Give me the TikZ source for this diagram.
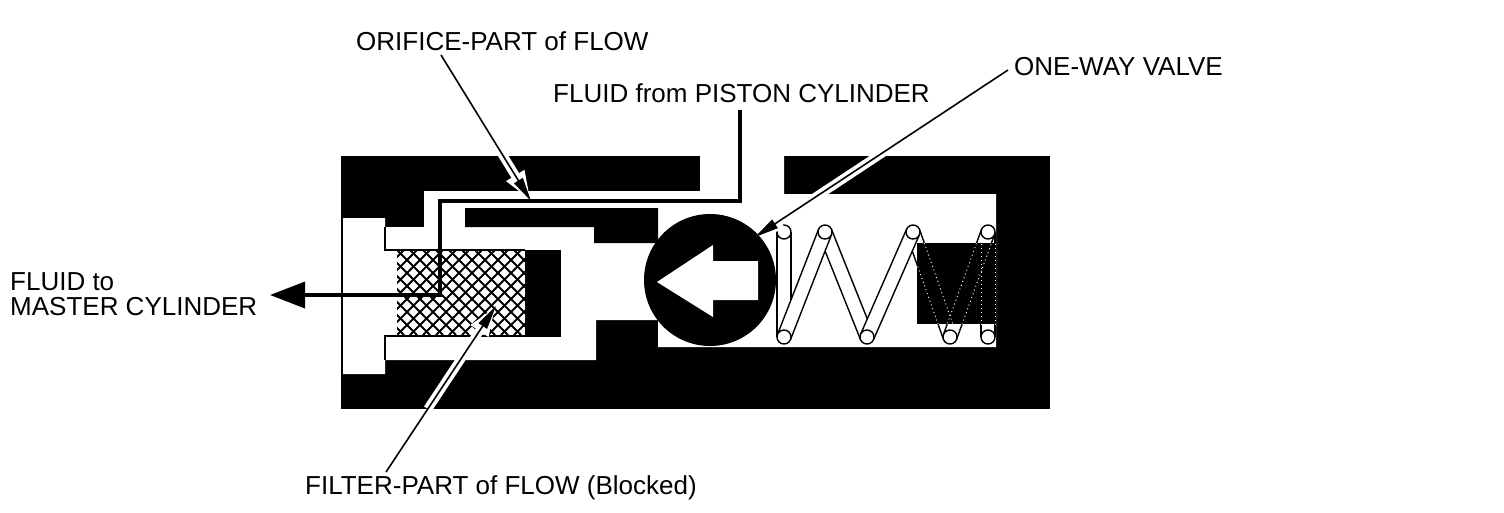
\documentclass[tikz,border=0pt]{standalone}
\usepackage{fontspec}
\setmainfont{Liberation Sans}
\usetikzlibrary{calc,arrows.meta}
\tikzset{
  x=1pt,y=-1pt,
  label text/.style={inner sep=0pt,anchor=west,font=\fontsize{26}{27}\selectfont,text=black},
  flowline/.style={line width=3.6pt,draw=black,line join=miter},
  leader/.style={line width=1.6pt,draw=black,-{Triangle[length=24pt,width=10pt]}},
  halo/.style={line width=9pt,draw=white,-{Triangle[length=30pt,width=19pt]}},
  wall line/.style={line width=2pt,draw=black},
  coil/.style={circle,draw=black,fill=white,line width=1.4pt,minimum size=14pt,inner sep=0pt},
  tape/.style={line width=1.4pt,draw=black},
  tape inside/.style={line width=0.9pt,draw=white,dash pattern=on 1pt off 3pt},
  hatch line/.style={line width=2pt,draw=black},
}
\newcommand{\tapepairs}[2]{%
  \foreach \p/\q in {#1}{
    \fill[white] ($(\p)!7pt!90:(\q)$) -- ($(\q)!7pt!-90:(\p)$) -- ($(\q)!7pt!90:(\p)$) -- ($(\p)!7pt!-90:(\q)$) -- cycle;
    \draw[#2] ($(\p)!7pt!90:(\q)$) -- ($(\q)!7pt!-90:(\p)$);
    \draw[#2] ($(\p)!7pt!-90:(\q)$) -- ($(\q)!7pt!90:(\p)$);
  }}
\newcommand{\tapelines}[2]{%
  \foreach \p/\q in {#1}{
    \draw[#2] ($(\p)!7pt!90:(\q)$) -- ($(\q)!7pt!-90:(\p)$);
    \draw[#2] ($(\p)!7pt!-90:(\q)$) -- ($(\q)!7pt!90:(\p)$);
  }}
\begin{document}
\begin{tikzpicture}
\useasboundingbox (0,0) rectangle (1504,512);
\fill[white] (0,0) rectangle (1504,512);
% body
\fill[black] (341,156) rectangle (1050,409);
% cavity
\fill[white] (343,218) -- (385,218) -- (385,227) -- (424,227) -- (424,191) -- (700,191) -- (700,156)
  -- (784,156) -- (784,194) -- (996,194) -- (996,347) -- (658,347) -- (658,320) -- (596,320)
  -- (596,360) -- (385,360) -- (385,374) -- (343,374) -- cycle;
% island
\fill[black] (465,208) -- (658,208) -- (658,243) -- (594,243) -- (594,227) -- (465,227) -- cycle;
% filter
\fill[black] (525,250) rectangle (561,337);
\begin{scope}
  \clip (397,250) rectangle (525,335);
  \foreach \k in {-8,...,20}{
    \draw[hatch line] ({397+13*\k},250) -- ({397+13*\k+85},335);
    \draw[hatch line] ({397+13*\k},335) -- ({397+13*\k+85},250);
  }
\end{scope}
\draw[wall line] (385,227) -- (385,250) -- (525,250);
\draw[wall line] (385,360) -- (385,336) -- (525,336);
% valve ball
\node[circle,fill=black,minimum size=132pt,inner sep=0pt] (ball) at (710,280) {};
\fill[white] (657,282) -- (713,245) -- (713,261) -- (758,261) -- (758,300) -- (713,300) -- (713,317) -- cycle;
% spring
\coordinate (c1) at (784,337);
\coordinate (c2) at (784,232);
\coordinate (c4) at (825,232);
\coordinate (c5) at (867,337);
\coordinate (c6) at (913,232);
\coordinate (c7) at (950,337);
\coordinate (c8) at (988,232);
\coordinate (c9) at (988,337);
\tapelines{c1/c2,c5/c4,c7/c6,c9/c8}{tape}
\tapepairs{c1/c4,c5/c6,c7/c8}{tape}
\foreach \n in {1,2,4,5,6,7,8,9}
  \node[coil] (s\n) at (c\n) {};
\fill[black] (917,243) rectangle (996,324);
\begin{scope}
  \clip (917,243) rectangle (996,324);
  \tapelines{c5/c6,c7/c6,c7/c8,c9/c8}{tape inside}
\end{scope}
% labels
\node[label text] (lorifice) at (356,41) {ORIFICE-PART of FLOW};
\node[label text] (lpiston) at (553,93) {FLUID from PISTON CYLINDER};
\node[label text] (lvalve) at (1014,67) {ONE-WAY VALVE};
\node[label text] (lto) at (10,282) {FLUID to};
\node[label text] (lmaster) at (10,307) {MASTER CYLINDER};
\node[label text] (lfilter) at (305,488) {FILTER-PART of FLOW (Blocked)};
% leader end points
\coordinate (orificeFrom) at (441,55);
\coordinate (orificeTip) at (531,201);
\coordinate (filterFrom) at (386,472);
\coordinate (filterTip) at (496,306);
\coordinate (valveFrom) at (1008,70);
\coordinate (valveTip) at (755,237);
\coordinate (flowFrom) at (740,110);
\coordinate (flowA) at (740,201);
\coordinate (flowB) at (440,201);
\coordinate (flowC) at (440,295);
\coordinate (flowTip) at (270,295);
% halos
\draw[halo] ($(orificeFrom)!0.55!(orificeTip)$) -- (orificeTip);
\draw[halo] ($(filterFrom)!0.38!(filterTip)$) -- (filterTip);
\draw[halo] ($(valveFrom)!0.45!(valveTip)$) -- (valveTip);
% flow path
\draw[flowline,-{Triangle[length=35pt,width=26pt]}] (flowFrom) -- (flowA) -- (flowB) -- (flowC) -- (flowTip);
% leaders
\draw[leader] (orificeFrom) -- (orificeTip);
\draw[leader] (filterFrom) -- (filterTip);
\draw[leader] (valveFrom) -- (valveTip);
\end{tikzpicture}
\end{document}
